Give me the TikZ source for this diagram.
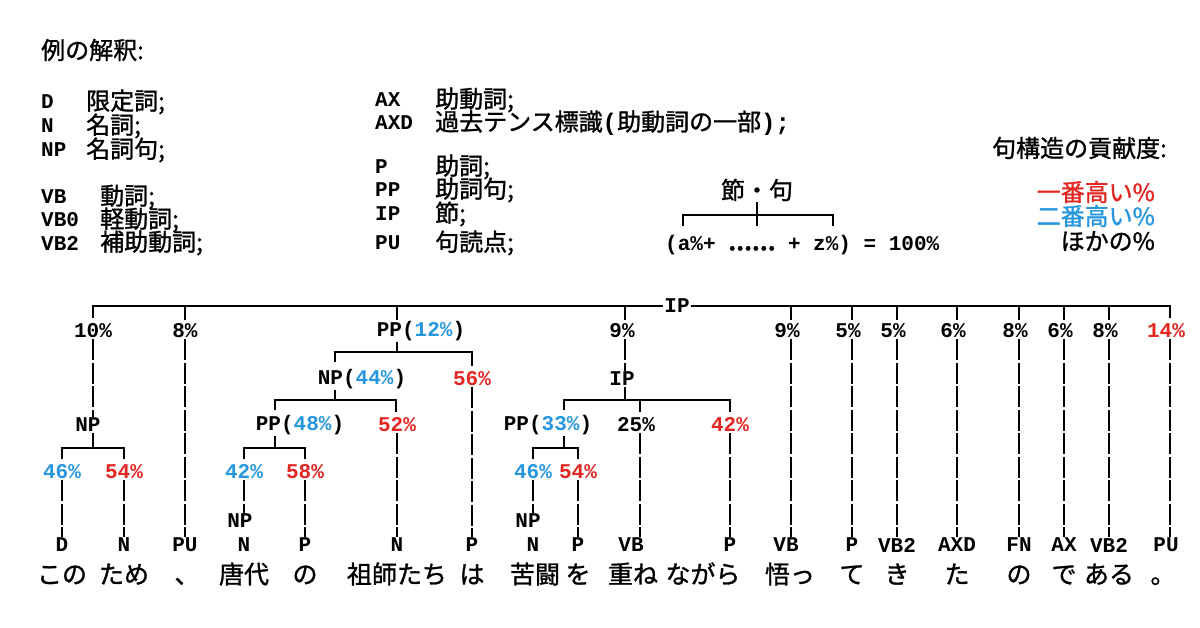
\documentclass[tikz,border=0pt]{standalone}
\usepackage{fontspec}
\setmonofont{Liberation Mono}
\newfontfamily\jpfont[FakeBold=1.2]{Noto Sans CJK JP}
\definecolor{hired}{RGB}{226,38,34}
\definecolor{hiblue}{RGB}{38,150,222}
\newcommand{\rd}[1]{\textcolor{hired}{#1}}
\newcommand{\bl}[1]{\textcolor{hiblue}{#1}}
\newcommand{\tb}[1]{{\ttfamily\bfseries #1}}
\tikzset{
  lab/.style={font=\ttfamily\bfseries\fontsize{21}{21}\selectfont, inner sep=1pt},
  jp/.style={font=\jpfont\fontsize{24}{24}\selectfont, inner sep=1pt},
  word/.style={font=\jpfont\fontsize{25}{25}\selectfont, inner sep=0pt, text height=19pt, text depth=2pt},
  vline/.style={line width=1.2pt, dash pattern=on 21pt off 2.5pt},
  bar/.style={line width=1.2pt}
}
\begin{document}
\begin{tikzpicture}[x=1pt,y=-1pt]
\useasboundingbox (0,0) rectangle (1200,628);
% legend
\node[jp, anchor=west] (title) at (40,50) {例の解釈:};
\node[lab, anchor=west] (kD) at (40,102) {D};   \node[jp, anchor=west] (vD) at (85,102) {限定詞;};
\node[lab, anchor=west] (kN) at (40,126) {N};   \node[jp, anchor=west] (vN) at (85,126) {名詞;};
\node[lab, anchor=west] (kNP) at (40,150) {NP}; \node[jp, anchor=west] (vNP) at (85,150) {名詞句;};
\node[lab, anchor=west] (kVB) at (40,197) {VB};   \node[jp, anchor=west] (vVB) at (99,197) {動詞;};
\node[lab, anchor=west] (kVB0) at (40,220) {VB0}; \node[jp, anchor=west] (vVB0) at (99,220) {軽動詞;};
\node[lab, anchor=west] (kVB2) at (40,243) {VB2}; \node[jp, anchor=west] (vVB2) at (99,243) {補助動詞;};
\node[lab, anchor=west] (kAX) at (374,100) {AX};   \node[jp, anchor=west] (vAX) at (434,100) {助動詞;};
\node[lab, anchor=west] (kAXD) at (374,123) {AXD}; \node[jp, anchor=west] (vAXD) at (434,123) {過去テンス標識\tb{(}助動詞の一部\tb{);}};
\node[lab, anchor=west] (kP) at (374,167) {P};   \node[jp, anchor=west] (vP) at (434,167) {助詞;};
\node[lab, anchor=west] (kPP) at (374,190) {PP}; \node[jp, anchor=west] (vPP) at (434,190) {助詞句;};
\node[lab, anchor=west] (kIP) at (374,214) {IP}; \node[jp, anchor=west] (vIP) at (434,214) {節;};
\node[lab, anchor=west] (kPU) at (374,243) {PU}; \node[jp, anchor=west] (vPU) at (434,243) {句読点;};
% sum rule
\node[jp] (phrase) at (757,190) {節・句};
\node[lab, anchor=west] (sum) at (664,245) {(a\%+ {\jpfont……}{} + z\%) = 100\%};
\draw[bar] (683,226) -- (683,215) -- (833,215) -- (833,226);
\draw[bar] (phrase.south -| 757,0) -- (757,226);
% contribution key
\node[jp, anchor=east] (keyt) at (1168,148) {句構造の貢献度:};
\node[jp, anchor=east, text=hired] (key1) at (1156,192) {一番高い\%};
\node[jp, anchor=east, text=hiblue] (key2) at (1156,216) {二番高い\%};
\node[jp, anchor=east] (key3) at (1156,241) {ほかの\%};
% tree: top bar
\node[lab, fill=white] (ip) at (677,306) {IP};
\draw[bar] (93,318) -- (93,306) -- (ip.west);
\draw[bar] (ip.east) -- (1170,306) -- (1170,318);
% first row
\node[lab] (p10) at (93,331) {10\%};
\node[lab] (p8) at (185,331) {8\%};
\node[lab] (pp12) at (421,331) {PP(\bl{12\%})};
\node[lab] (p9) at (622,331) {9\%};
\foreach \x/\t [count=\i] in {791/9\%,852/5\%,897/5\%,957/6\%,1019/8\%,1064/6\%,1109/8\%,1170/\rd{14\%}}
  \node[lab] (r\i) at (\x-4,331) {\t};
\foreach \x in {185,397,625,791,852,897,957,1019,1064,1109}
  \draw[bar] (\x,306) -- (\x,320);
% second row
\node[lab] (np44) at (362,379) {NP(\bl{44\%})};
\node[lab] (p56) at (472,379) {\rd{56\%}};
\node[lab] (ip2) at (622,379) {IP};
% third row
\node[lab] (np1) at (88,425) {NP};
\node[lab] (pp48) at (300,425) {PP(\bl{48\%})};
\node[lab] (p52) at (397,425) {\rd{52\%}};
\node[lab] (pp33) at (548,425) {PP(\bl{33\%})};
\node[lab] (p25) at (636,425) {25\%};
\node[lab] (p42) at (730,425) {\rd{42\%}};
% fourth row
\node[lab] (p46a) at (62,472) {\bl{46\%}};
\node[lab] (p54a) at (124,472) {\rd{54\%}};
\node[lab] (p42b) at (244,472) {\bl{42\%}};
\node[lab] (p58) at (305,472) {\rd{58\%}};
\node[lab] (p46b) at (533,472) {\bl{46\%}};
\node[lab] (p54b) at (578,472) {\rd{54\%}};
\node[lab] (npa) at (240,521) {NP};
\node[lab] (npb) at (528,521) {NP};
% brackets
\draw[bar] (335,362) -- (335,352) -- (472,352) -- (472,366);
\draw[bar] (pp12.south -| 397,0) -- (397,352);
\draw[bar] (275,410) -- (275,400) -- (396,400) -- (396,412);
\draw[bar] (np44.south -| 335,0) -- (335,400);
\draw[bar] (564,410) -- (564,400) -- (730,400) -- (730,412);
\draw[bar] (640,400) -- (640,412);
\draw[bar] (ip2.south -| 625,0) -- (625,400);
\foreach \a/\b/\m/\n in {62/124/93/np1,244/305/275/pp48,533/578/564/pp33}{
  \draw[bar] (\a,459) -- (\a,448) -- (\b,448) -- (\b,459);
  \draw[bar] (\n.south -| \m,0) -- (\m,448);
}
% leaves
\foreach \x/\t [count=\i] in {62/D,124/N,185/PU,244/N,305/P,397/N,472/P,533/N,578/P,631/VB,730/P,786/VB,852/P,897/VB2,957/AXD,1019/FN,1064/AX,1109/VB2,1166/PU}
  \node[lab] (l\i) at (\x,545) {\t};
\foreach \x/\t [count=\i] in {62/この,124/ため,187/、,244/唐代,305/の,397/祖師たち,472/は,535/苦闘,578/を,633/重ね,703/ながら,790/悟っ,852/て,897/き,957/た,1019/の,1064/で,1109/ある,1163/。}
  \node[word] (w\i) at (\x,575) {\t};
% vertical links
\draw[vline] (p10.south -| 93,0) -- (np1.north -| 93,0);
\draw[vline] (p8.south) -- (l3.north);
\draw[vline] (p9.south -| 625,0) -- (ip2.north -| 625,0);
\foreach \x/\i [count=\k] in {791/11,852/12,897/14,957/15,1019/16,1064/17,1109/18,1170/19}
  \draw[vline] (r\k.south -| \x,0) -- (l\i.north -| \x,0);
\draw[vline] (p56.south) -- (l7.north);
\draw[vline] (p52.south) -- (l6.north);
\draw[vline] (p25.south -| 640,0) -- (l10.north -| 640,0);
\draw[vline] (p42.south) -- (l11.north);
\draw[vline] (p46a.south) -- (l1.north);
\draw[vline] (p54a.south) -- (l2.north);
\draw[vline] (p42b.south) -- (npa.north -| 244,0);
\draw[vline] (p58.south) -- (l5.north);
\draw[vline] (p46b.south) -- (npb.north -| 533,0);
\draw[vline] (p54b.south) -- (l9.north);
\end{tikzpicture}
\end{document}
